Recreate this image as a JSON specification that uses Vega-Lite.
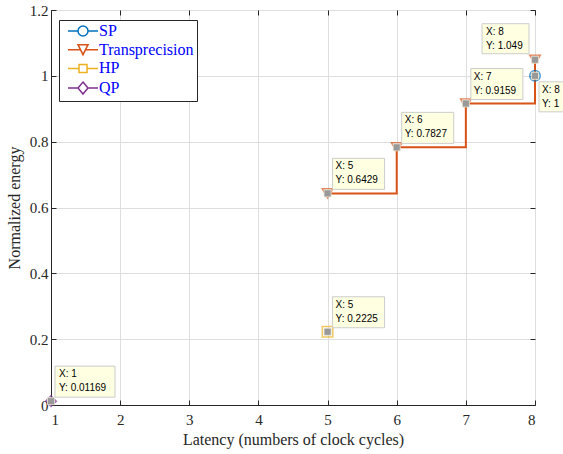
{
  "$schema": "https://vega.github.io/schema/vega-lite/v6.json",
  "width": 484,
  "height": 395,
  "autosize": {"type": "none"},
  "padding": {"left": 51, "top": 10, "right": 28, "bottom": 49},
  "background": "white",
  "config": {
    "view": {"stroke": "#262626", "strokeWidth": 1},
    "font": "Liberation Serif",
    "axis": {
      "domainColor": "#262626",
      "domainWidth": 1,
      "tickColor": "#262626",
      "tickSize": -5,
      "gridColor": "#dedede",
      "gridWidth": 1
    },
    "legend": {
      "labelFont": "Liberation Serif",
      "labelFontSize": 16,
      "labelColor": "#0000ff"
    }
  },
  "data": {
    "values": [
      {"series": "SP", "x": 8, "y": 1},
      {"series": "Transprecision", "x": 5, "y": 0.6429},
      {"series": "Transprecision", "x": 6, "y": 0.7827},
      {"series": "Transprecision", "x": 7, "y": 0.9159},
      {"series": "Transprecision", "x": 8, "y": 1.049},
      {"series": "HP", "x": 5, "y": 0.2225},
      {"series": "QP", "x": 1, "y": 0.01169}
    ]
  },
  "transform": [
    {"calculate": "['X: ' + datum.x, 'Y: ' + format(datum.y, '.4~g')]", "as": "tip"}
  ],
  "encoding": {
    "x": {"field": "x", "type": "quantitative", "scale": {"domain": [1, 8], "nice": false, "zero": false}, "axis": null},
    "y": {"field": "y", "type": "quantitative", "scale": {"domain": [0, 1.2], "nice": false}, "axis": null}
  },
  "resolve": {
    "scale": {"shape": "independent"},
    "legend": {"shape": "independent"},
    "axis": {"x": "independent", "y": "independent"}
  },
  "layer": [
    {
      "transform": [{"filter": "datum.series == 'Transprecision'"}],
      "mark": {"type": "line", "interpolate": "step-after", "strokeWidth": 2, "color": "#D95319"},
      "encoding": {
        "x": {
          "field": "x", "type": "quantitative",
          "scale": {"domain": [1, 8], "nice": false, "zero": false},
          "axis": {"title": "Latency (numbers of clock cycles)", "values": [1, 2, 3, 4, 5, 6, 7, 8], "format": "d",
            "labelPadding": 12, "titlePadding": 4,
            "labelFont": "Liberation Serif", "labelFontSize": 15, "labelColor": "#262626",
            "titleFont": "Liberation Serif", "titleFontSize": 16, "titleFontWeight": "normal", "titleColor": "#262626"}
        },
        "y": {
          "field": "y", "type": "quantitative",
          "scale": {"domain": [0, 1.2], "nice": false},
          "axis": {"title": "Normalized energy", "values": [0, 0.2, 0.4, 0.6, 0.8, 1, 1.2], "format": "~g",
            "labelPadding": 8, "titlePadding": 7,
            "labelFont": "Liberation Serif", "labelFontSize": 15, "labelColor": "#262626",
            "titleFont": "Liberation Serif", "titleFontSize": 16, "titleFontWeight": "normal", "titleColor": "#262626"}
        }
      }
    },
    {
      "mark": {"type": "point", "filled": false, "size": 110, "strokeWidth": 1.5},
      "encoding": {
        "x": {
          "field": "x", "type": "quantitative",
          "scale": {"domain": [1, 8], "nice": false, "zero": false},
          "axis": {"orient": "top", "title": null, "labels": false, "grid": false, "domain": false, "values": [1, 2, 3, 4, 5, 6, 7, 8]}
        },
        "y": {
          "field": "y", "type": "quantitative",
          "scale": {"domain": [0, 1.2], "nice": false},
          "axis": {"orient": "right", "title": null, "labels": false, "grid": false, "domain": false, "values": [0, 0.2, 0.4, 0.6, 0.8, 1, 1.2]}
        },
        "color": {"field": "series", "type": "nominal",
          "scale": {"domain": ["SP", "Transprecision", "HP", "QP"], "range": ["#0072BD", "#D95319", "#EDB120", "#7E2F8E"]},
          "legend": null},
        "shape": {"field": "series", "type": "nominal",
          "scale": {"domain": ["SP", "Transprecision", "HP", "QP"], "range": ["circle", "triangle-down", "square", "diamond"]},
          "legend": null}
      }
    },
    {
      "mark": {"type": "point", "filled": false, "opacity": 0, "size": 100, "strokeWidth": 1.5},
      "encoding": {
        "color": {"field": "series", "type": "nominal",
          "scale": {"domain": ["SP", "Transprecision", "HP", "QP"], "range": ["#0072BD", "#D95319", "#EDB120", "#7E2F8E"]},
          "legend": null},
        "shape": {"field": "series", "type": "nominal",
          "scale": {"domain": ["SP", "Transprecision", "HP", "QP"], "range": [
            "M-3,0H-1A1,1 0 1,0 1,0A1,1 0 1,0 -1,0M1,0H3",
            "M-3,0H-0.5M0.5,0H3M-1,-1L1,-1L0,1Z",
            "M-3,0H-0.8M0.8,0H3M-0.8,-0.8H0.8V0.8H-0.8Z",
            "M-3,0H-1M1,0H3M0,-1.2L1,0L0,1.2L-1,0Z"
          ]},
          "legend": {
            "title": null, "orient": "none", "legendX": 8, "legendY": 10,
            "strokeColor": "#262626", "fillColor": "#ffffff", "padding": 3, "rowPadding": 2.7,
            "symbolSize": 100, "symbolStrokeWidth": 1.5, "symbolOpacity": 1,
            "symbolFillColor": "transparent", "symbolOffset": 13, "labelOffset": 8,
            "symbolStrokeColor": {"expr": "scale('color', datum.value)"}
          }
        }
      }
    },
    {
      "transform": [{"filter": "datum.series == 'Transprecision' && datum.x < 8 || datum.series == 'HP'"}],
      "mark": {"type": "rect", "fill": "#ffffe1", "stroke": "#cccccc", "strokeWidth": 1, "xOffset": 5, "x2Offset": 57, "yOffset": -35, "y2Offset": -4},
      "encoding": {"x2": {"field": "x"}, "y2": {"field": "y"}}
    },
    {
      "transform": [{"filter": "datum.series == 'QP'"}],
      "mark": {"type": "rect", "fill": "#ffffe1", "stroke": "#cccccc", "strokeWidth": 1, "xOffset": 4, "x2Offset": 64, "yOffset": -35, "y2Offset": -4},
      "encoding": {"x2": {"field": "x"}, "y2": {"field": "y"}}
    },
    {
      "transform": [{"filter": "datum.series == 'Transprecision' && datum.x == 8"}],
      "mark": {"type": "rect", "fill": "#ffffe1", "stroke": "#cccccc", "strokeWidth": 1, "xOffset": -53, "x2Offset": -6, "yOffset": -36, "y2Offset": -6},
      "encoding": {"x2": {"field": "x"}, "y2": {"field": "y"}}
    },
    {
      "transform": [{"filter": "datum.series == 'SP'"}],
      "mark": {"type": "rect", "fill": "#ffffe1", "stroke": "#cccccc", "strokeWidth": 1, "xOffset": 4, "x2Offset": 60, "yOffset": 6, "y2Offset": 36},
      "encoding": {"x2": {"field": "x"}, "y2": {"field": "y"}}
    },
    {
      "mark": {"type": "point", "shape": "square", "filled": true, "size": 50, "color": "#999999", "opacity": 1, "stroke": "#e8e8d8", "strokeWidth": 0.8}
    },
    {
      "transform": [{"filter": "datum.series != 'SP' && !(datum.series == 'Transprecision' && datum.x == 8)"}],
      "mark": {"type": "text", "align": "left", "baseline": "top", "dx": 8, "dy": -32, "font": "Liberation Sans", "fontSize": 10, "lineHeight": 14, "color": "#000000"},
      "encoding": {"text": {"field": "tip", "type": "nominal"}}
    },
    {
      "transform": [{"filter": "datum.series == 'Transprecision' && datum.x == 8"}],
      "mark": {"type": "text", "align": "left", "baseline": "top", "dx": -49, "dy": -33, "font": "Liberation Sans", "fontSize": 10, "lineHeight": 14, "color": "#000000"},
      "encoding": {"text": {"field": "tip", "type": "nominal"}}
    },
    {
      "transform": [{"filter": "datum.series == 'SP'"}],
      "mark": {"type": "text", "align": "left", "baseline": "top", "dx": 7, "dy": 9, "font": "Liberation Sans", "fontSize": 10, "lineHeight": 14, "color": "#000000"},
      "encoding": {"text": {"field": "tip", "type": "nominal"}}
    }
  ]
}
